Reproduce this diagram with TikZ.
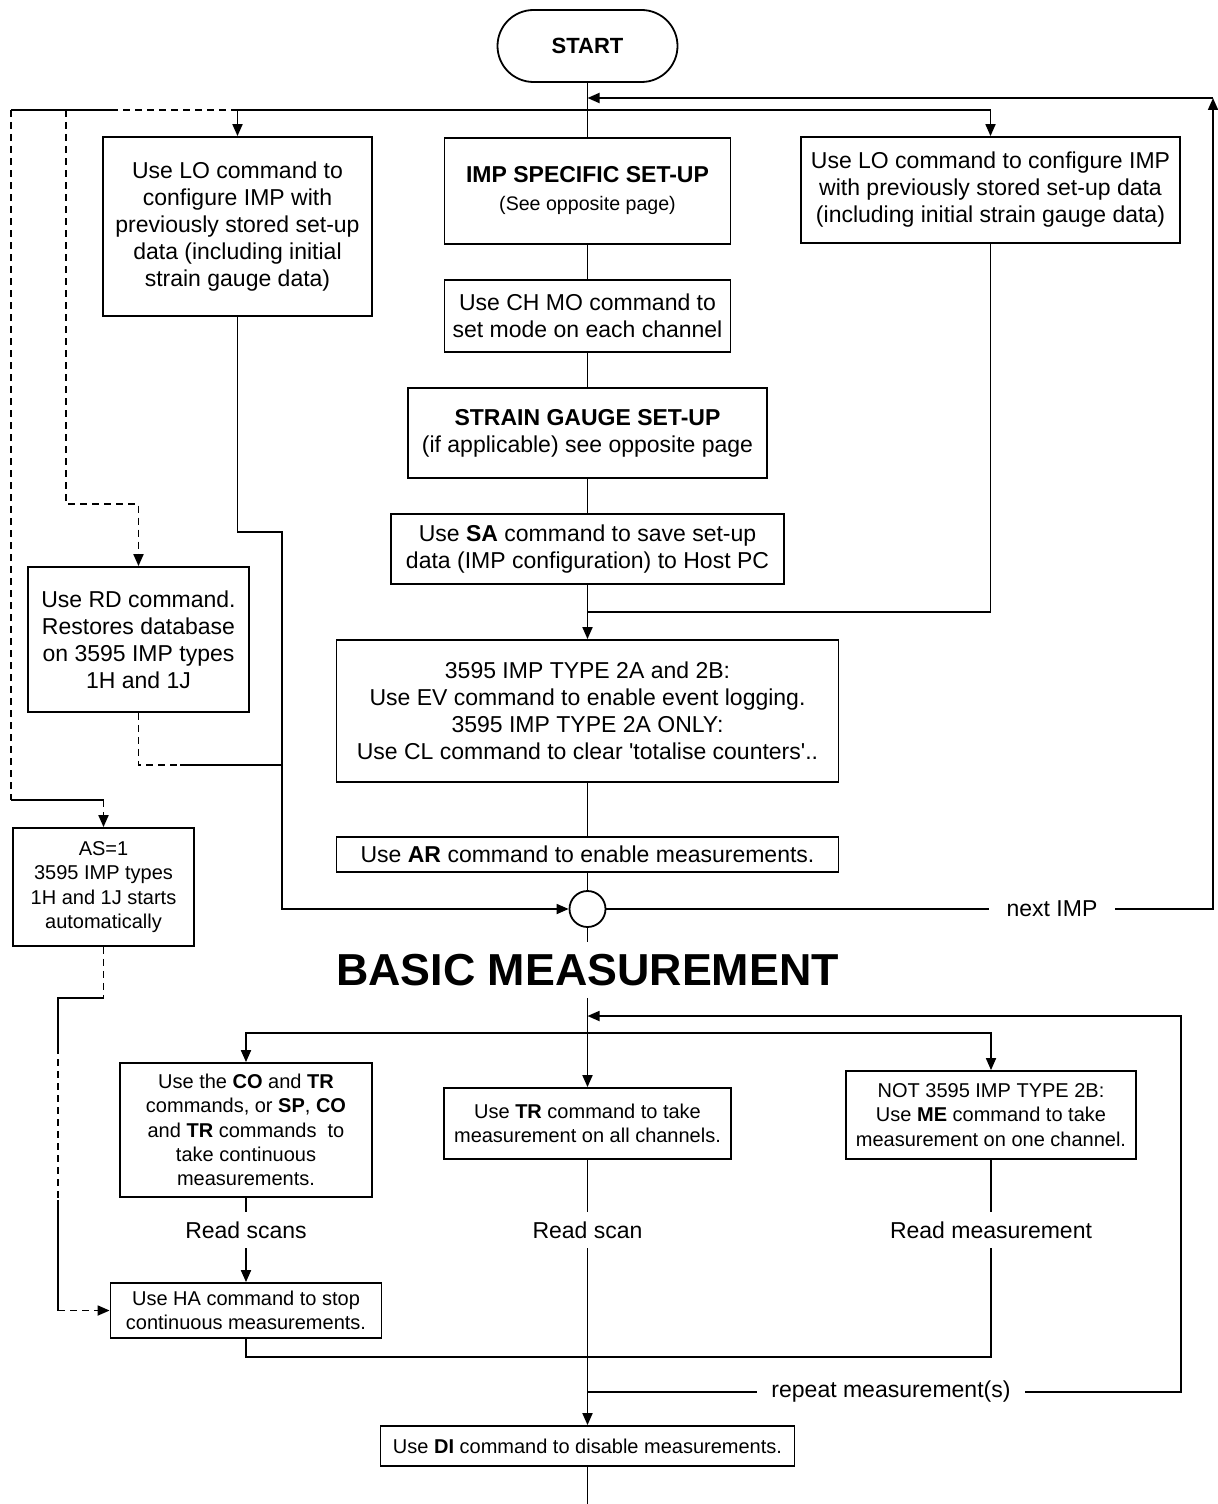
\documentclass[tikz,border=0pt]{standalone}
\usepackage{fontspec}
\setmainfont{Liberation Sans}
\usepackage{tikz}
\usetikzlibrary{arrows.meta}
\tikzset{
  arw/.style={-{Triangle[length=6pt,width=5pt]}},
  dsh/.style={dash pattern=on 3.5pt off 2.5pt},
  box/.style={draw,align=center,inner sep=0pt,font=\fontsize{11.5}{13.5}\selectfont},
  sbox/.style={box,font=\fontsize{10}{12.2}\selectfont},
  lbl/.style={inner xsep=7pt,inner ysep=4.5pt,font=\fontsize{11.5}{13.5}\selectfont}
}
\begin{document}
\begin{tikzpicture}[x=0.5pt,y=-0.5pt,line width=0.9pt]
\useasboundingbox (0,0) rectangle (1218,1504);

% set-up part
\node[box,rounded corners=18pt,minimum width=90pt,minimum height=36pt,font=\fontsize{11}{13}\selectfont\bfseries] (start) at (587.5,46) {START};
\node[box,minimum width=134.5pt,minimum height=89.5pt] (lo1) at (237.5,226.5) {Use LO command to\\configure IMP with\\previously stored set-up\\data (including initial\\strain gauge data)};
\node[box,minimum width=143pt,minimum height=53pt] (imp) at (587.5,191) {\textbf{IMP SPECIFIC SET-UP}\\[0.5pt]{\fontsize{9.8}{11}\selectfont (See opposite page)}};
\node[box,minimum width=189.5pt,minimum height=53pt] (lo2) at (990.5,190) {Use LO command to configure IMP\\with previously stored set-up data\\(including initial strain gauge data)};
\node[box,minimum width=143pt,minimum height=36pt] (chmo) at (587.5,316) {Use CH MO command to\\set mode on each channel};
\node[box,minimum width=179.5pt,minimum height=45pt] (strain) at (587.5,433) {\textbf{STRAIN GAUGE SET-UP}\\(if applicable) see opposite page};
\node[box,minimum width=196.5pt,minimum height=35pt] (sa) at (587.5,549) {Use \textbf{SA} command to save set-up\\data (IMP configuration) to Host PC};
\node[box,minimum width=251pt,minimum height=71pt] (ev) at (587.5,711) {3595 IMP TYPE 2A and 2B:\\Use EV command to enable event logging.\\3595 IMP TYPE 2A ONLY:\\Use CL command to clear \textquotesingle totalise counters\textquotesingle..};
\node[box,minimum width=251pt,minimum height=17.5pt] (arbox) at (587.5,854.5) {Use \textbf{AR} command to enable measurements.};
\node[box,minimum width=110.5pt,minimum height=72.5pt] (rd) at (138.5,639.5) {Use RD command.\\Restores database\\on 3595 IMP types\\1H and 1J};
\node[sbox,minimum width=90.5pt,minimum height=59pt] (auto) at (103.5,887) {AS=1\\3595 IMP types\\1H and 1J starts\\automatically};
\node[draw,circle,inner sep=0pt,minimum size=18pt] (join) at (587.5,909) {};
\node[lbl,inner xsep=8.5pt] (nimp) at (1052,909) {next IMP};

% measurement part
\node[inner xsep=0pt,inner ysep=5.5pt,font=\fontsize{22.4}{26}\selectfont\bfseries] (title) at (587.5,970) {BASIC MEASUREMENT};
\node[sbox,minimum width=126pt,minimum height=67pt] (co) at (246,1130) {Use the \textbf{CO} and \textbf{TR}\\commands, or \textbf{SP}, \textbf{CO}\\and \textbf{TR} commands\ \ to\\take continuous\\measurements.};
\node[sbox,minimum width=143.5pt,minimum height=35.5pt] (tr) at (587.5,1123.5) {Use \textbf{TR} command to take\\measurement on all channels.};
\node[sbox,minimum width=145pt,minimum height=44pt] (me) at (991,1115) {NOT 3595 IMP TYPE 2B:\\Use \textbf{ME} command to take\\measurement on one channel.};
\node[lbl] (rscans) at (246,1230) {Read scans};
\node[lbl] (rscan) at (587.5,1230) {Read scan};
\node[lbl] (rmeas) at (991,1230) {Read measurement};
\node[sbox,minimum width=135.5pt,minimum height=27.5pt] (ha) at (246,1310.5) {Use HA command to stop\\continuous measurements.};
\node[lbl] (rep) at (891,1392) {repeat measurement(s)};
\node[sbox,minimum width=207pt,minimum height=20pt] (di) at (587.5,1446) {Use \textbf{DI} command to disable measurements.};

% bends and free ends
\coordinate (railtop) at (1213,98);
\coordinate (spineA) at (587.5,98);
\coordinate (distA) at (587.5,110);
\coordinate (lrail) at (11,110);
\coordinate (mrail) at (66,110);
\coordinate (dbreak) at (117,110);
\coordinate (rdtop) at (138.5,504);
\coordinate (merge) at (587.5,612);
\coordinate (lobend) at (282,532);
\coordinate (rdsolid) at (180,765);
\coordinate (rdjoin) at (282,765);
\coordinate (asbend) at (11,800);
\coordinate (asdrop) at (103.5,800);
\coordinate (haA) at (103.5,998);
\coordinate (haB) at (58,998);
\coordinate (haC) at (58,1047);
\coordinate (haD) at (58,1200);
\coordinate (haE) at (58,1310.5);
\coordinate (spineB) at (587.5,1016);
\coordinate (distB) at (587.5,1033);
\coordinate (haline) at (246,1357);
\coordinate (repJ) at (587.5,1392);
\coordinate (repC) at (1181,1016);
\coordinate (bottom) at (587.5,1504);

% set-up connectors
\draw (start) -- (imp);
\draw[arw] (nimp.east) -| (railtop);
\draw[arw] (railtop) -- (spineA);
\draw[arw] (distA) -| (lo2.north);
\draw[arw] (distA) -| (lo1.north);
\draw[dsh] (lo1.north |- distA) -- (dbreak);
\draw (dbreak) -- (lrail);
\draw[dsh,arw] (mrail) |- (rdtop) -- (rd.north);
\draw (imp) -- (chmo);
\draw (chmo) -- (strain);
\draw (strain) -- (sa);
\draw[arw] (sa) -- (ev);
\draw (lo2.south) |- (merge);
\draw (ev) -- (arbox);
\draw (arbox) -- (join);
\draw[arw] (lo1.south) |- (lobend) |- (join.west);
\draw[dsh] (rd.south) |- (rdsolid);
\draw (rdsolid) -- (rdjoin);
\draw (join.east) -- (nimp.west);
\draw[dsh] (lrail) -- (asbend);
\draw (asbend) -- (asdrop);
\draw[dsh,arw] (asdrop) -- (auto.north);
\draw[dsh] (auto.south) -- (haA);
\draw (haA) -- (haB) -- (haC);
\draw[dsh] (haC) -- (haD);
\draw (haD) -- (haE);
\draw[dsh,arw] (haE) -- (ha.west);

% measurement connectors
\draw (join.south) -- (title.north);
\draw[arw] (title.south) -- (tr.north);
\draw[arw] (distB) -| (co.north);
\draw[arw] (distB) -| (me.north);
\draw (co) -- (rscans);
\draw[arw] (rscans) -- (ha);
\draw (tr) -- (rscan);
\draw[arw] (rscan) -- (di);
\draw (me) -- (rmeas);
\draw (rmeas.south) |- (haline) -- (ha.south);
\draw (repJ) -- (rep.west);
\draw[arw] (rep.east) -| (repC) -- (spineB);
\draw (di) -- (bottom);
\end{tikzpicture}
\end{document}
